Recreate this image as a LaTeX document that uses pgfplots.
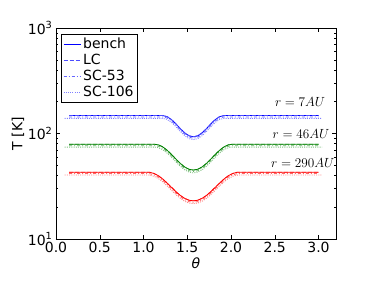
\documentclass[border=0pt]{standalone}
\usepackage{pgfplots}
\pgfplotsset{compat=1.18}
\usepackage{pgfplotstable}
\usepackage{fontspec}
\setmainfont{DejaVu Sans}

\pgfplotstableread{
t b c53 c106
0.10 nan nan 139.1
0.15 148 143.6 139.1
0.60 148 143.6 139.1
1.00 148 143.6 139.1
1.22 148 143.6 139.1
1.27 144.5 140.2 135.8
1.32 135.5 131.4 127.4
1.37 123.4 119.7 116.0
1.42 111.3 108.0 104.6
1.47 101.4 98.4 95.3
1.52 95.1 92.2 89.4
1.57 93 90.2 87.4
1.62 95.1 92.2 89.4
1.67 101.4 98.4 95.3
1.72 111.3 108.0 104.6
1.77 123.4 119.7 116.0
1.82 135.5 131.4 127.4
1.87 144.5 140.2 135.8
1.92 148 143.6 139.1
2.40 148 143.6 139.1
3.00 148 143.6 139.1
3.04 nan nan 139.1
}\blue

\pgfplotstableread{
t b c53 c106
0.10 nan nan 74.3
0.15 79 76.6 74.3
0.60 79 76.6 74.3
1.00 79 76.6 74.3
1.13 79 76.6 74.3
1.17 78.1 75.8 73.4
1.22 74.7 72.5 70.2
1.27 69.4 67.3 65.2
1.32 63.3 61.4 59.5
1.37 57.3 55.6 53.9
1.42 52.1 50.5 49.0
1.47 48.2 46.8 45.3
1.52 45.8 44.4 43.1
1.57 45 43.7 42.3
1.62 45.8 44.4 43.1
1.67 48.2 46.8 45.3
1.72 52.1 50.5 49.0
1.77 57.3 55.6 53.9
1.82 63.3 61.4 59.5
1.87 69.4 67.3 65.2
1.92 74.7 72.5 70.2
1.97 78.1 75.8 73.4
2.01 79 76.6 74.3
2.40 79 76.6 74.3
3.00 79 76.6 74.3
3.04 nan nan 74.3
}\green

\pgfplotstableread{
t b c53 c106
0.10 nan nan 40.4
0.15 43 41.7 40.4
0.60 43 41.7 40.4
0.90 43 41.7 40.4
1.05 43 41.7 40.4
1.07 42.9 41.6 40.3
1.12 41.8 40.5 39.3
1.17 39.8 38.6 37.4
1.22 37.0 35.9 34.8
1.27 33.9 32.9 31.9
1.32 30.9 30.0 29.0
1.37 28.1 27.3 26.4
1.42 25.9 25.1 24.3
1.47 24.3 23.6 22.8
1.52 23.3 22.6 21.9
1.57 23 22.3 21.6
1.62 23.3 22.6 21.9
1.67 24.3 23.6 22.8
1.72 25.9 25.1 24.3
1.77 28.1 27.3 26.4
1.82 30.9 30.0 29.0
1.87 33.9 32.9 31.9
1.92 37.0 35.9 34.8
1.97 39.8 38.6 37.4
2.02 41.8 40.5 39.3
2.07 42.9 41.6 40.3
2.09 43 41.7 40.4
2.50 43 41.7 40.4
3.00 43 41.7 40.4
3.04 nan nan 40.4
}\red

\begin{document}
\begin{tikzpicture}[font=\fontsize{14}{16}\selectfont]
\useasboundingbox (-56pt,-43pt) rectangle (318pt,239pt);
\begin{axis}[
  at={(0,0)}, anchor=south west,
  scale only axis, width=280pt, height=211pt,
  xmin=0, xmax=3.2, ymode=log, ymin=10, ymax=1000,
  xtick={0,0.5,1,1.5,2,2.5,3},
  xticklabels={0.0,0.5,1.0,1.5,2.0,2.5,3.0},
  ytick={10,100,1000},
  yticklabels={10\textsuperscript{1},10\textsuperscript{2},10\textsuperscript{3}},
  tick label style={font=\fontsize{14}{16}\selectfont},
  label style={font=\fontsize{14}{16}\selectfont},
  tick align=inside, major tick length=4pt, minor tick length=2pt,
  tick style={black, line width=0.5pt},
  axis line style={line width=0.6pt},
  xlabel={\textit{θ}}, ylabel={T [K]},
  xlabel style={at={(axis description cs:0.5,-0.114)}, anchor=center},
  ylabel style={at={(axis description cs:-0.136,0.5)}, anchor=center},
  unbounded coords=discard,
  legend style={at={(axis description cs:0.018,0.972)}, anchor=north west, draw=black, line width=0.5pt,
    font=\fontsize{14}{16}\selectfont, inner sep=2pt},
  legend cell align=left,
  every axis plot/.append style={line width=0.8pt},
]
\addplot[blue, no marks] table[x=t,y=b] {\blue};
\addlegendentry{bench}
\addplot[blue!70, no marks, dash pattern=on 4pt off 2pt] table[x=t,y=b] {\blue};
\addlegendentry{LC}
\addplot[blue!60, no marks, dash pattern=on 3pt off 2pt on 1pt off 2pt] table[x=t,y=c53] {\blue};
\addlegendentry{SC-53}
\addplot[blue!50, no marks, dash pattern=on 1pt off 1.2pt] table[x=t,y=c106] {\blue};
\addlegendentry{SC-106}

\addplot[green!50!black, no marks, forget plot] table[x=t,y=b] {\green};
\addplot[green!50!black, opacity=0.7, no marks, forget plot, dash pattern=on 4pt off 2pt] table[x=t,y=b] {\green};
\addplot[green!50!black, opacity=0.6, no marks, forget plot, dash pattern=on 3pt off 2pt on 1pt off 2pt] table[x=t,y=c53] {\green};
\addplot[green!50!black, opacity=0.5, no marks, forget plot, dash pattern=on 1pt off 1.2pt] table[x=t,y=c106] {\green};

\addplot[red, no marks, forget plot] table[x=t,y=b] {\red};
\addplot[red, opacity=0.7, no marks, forget plot, dash pattern=on 4pt off 2pt] table[x=t,y=b] {\red};
\addplot[red, opacity=0.6, no marks, forget plot, dash pattern=on 3pt off 2pt on 1pt off 2pt] table[x=t,y=c53] {\red};
\addplot[red, opacity=0.5, no marks, forget plot, dash pattern=on 1pt off 1.2pt] table[x=t,y=c106] {\red};

\node[font=\fontsize{14}{16}\selectfont, scale=0.92] at (axis cs:2.79,201) {$r=7AU$};
\node[font=\fontsize{14}{16}\selectfont, scale=0.92] at (axis cs:2.80,100) {$r=46AU$};
\node[font=\fontsize{14}{16}\selectfont, scale=0.92] at (axis cs:2.82,53) {$r=290AU$};
\end{axis}
\end{tikzpicture}
\end{document}
